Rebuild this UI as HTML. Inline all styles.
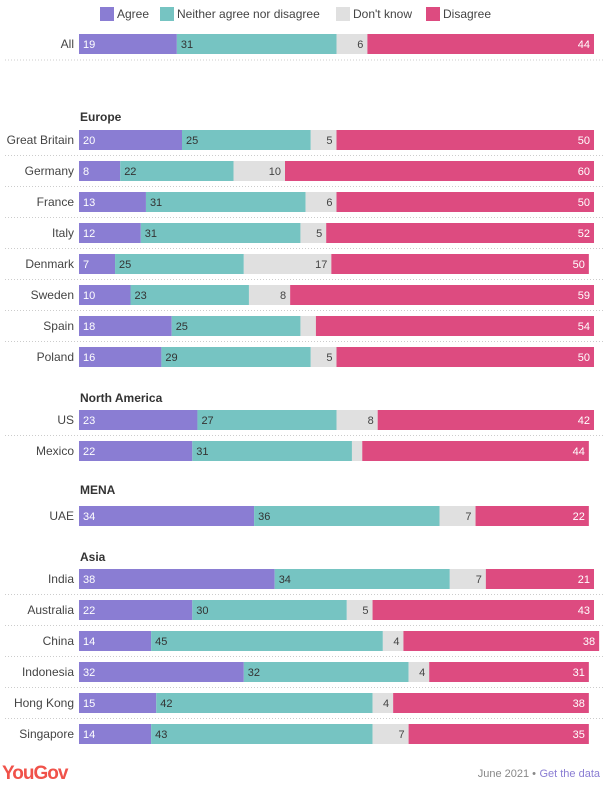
<!DOCTYPE html>
<html><head><meta charset="utf-8"><style>
body{margin:0;background:#fff;width:616px;height:796px;overflow:hidden;font-family:"Liberation Sans",sans-serif;}
svg text{font-family:"Liberation Sans",sans-serif;}
</style></head><body>
<svg id="chart" width="616" height="796" xmlns="http://www.w3.org/2000/svg">
<g font-size="12" fill="#444">
<rect x="100" y="7" width="14" height="14" fill="#8a7dd3"/>
<text x="117" y="18">Agree</text>
<rect x="160" y="7" width="14" height="14" fill="#76c4c2"/>
<text x="177" y="18">Neither agree nor disagree</text>
<rect x="336" y="7" width="14" height="14" fill="#e0e0e0"/>
<text x="353" y="18">Don't know</text>
<rect x="426" y="7" width="14" height="14" fill="#dd4b80"/>
<text x="443" y="18">Disagree</text>
</g>
<g id="bars"></g>
<text x="2" y="779" font-size="19" font-weight="bold" fill="#f0524a" letter-spacing="-1">YouGov</text>
<text x="536" y="777" font-size="11" fill="#888" text-anchor="end">June 2021 •</text>
<text x="600" y="777" font-size="11" fill="#8a7dd3" text-anchor="end">Get the data</text>
</svg>
<script>
const categories=["All","Great Britain","Germany","France","Italy","Denmark","Sweden","Spain","Poland","US","Mexico","UAE","India","Australia","China","Indonesia","Hong Kong","Singapore"];
const agree=[19,20,8,13,12,7,10,18,16,23,22,34,38,22,14,32,15,14];
const neither=[31,25,22,31,31,25,23,25,29,27,31,36,34,30,45,32,42,43];
const dontKnow=[6,5,10,6,5,17,8,3,5,8,2,7,7,5,4,4,4,7];
const disagree=[44,50,60,50,52,50,59,54,50,42,44,22,21,43,38,31,38,35];
const showValue=[[1,1,1,1],[1,1,1,1],[1,1,1,1],[1,1,1,1],[1,1,1,1],[1,1,1,1],[1,1,1,1],[1,1,0,1],[1,1,1,1],[1,1,1,1],[1,1,0,1],[1,1,1,1],[1,1,1,1],[1,1,1,1],[1,1,1,1],[1,1,1,1],[1,1,1,1],[1,1,1,1]];
const groups=[{name:"Europe",y:117},{name:"North America",y:398},{name:"MENA",y:490},{name:"Asia",y:557}];
const rowCenters=[44,140,171,202,233,264,295,326,357,420,451,516,579,610,641,672,703,734];
const x0=79, scale=5.15, bh=20;
const xs=v=>v*scale;
const colors=["#8a7dd3","#76c4c2","#e0e0e0","#dd4b80"];
const tcol=["#fff","#333","#444","#fff"];
const NS="http://www.w3.org/2000/svg";
const g=document.getElementById('bars');
function mk(t,a){const e=document.createElementNS(NS,t);for(const k in a)e.setAttribute(k,a[k]);g.appendChild(e);return e;}
groups.forEach(gr=>{const t=mk('text',{x:80,y:gr.y+4,'font-size':12,'font-weight':'bold',fill:'#333'});t.textContent=gr.name;

});
categories.forEach((c,i)=>{
 const cy=rowCenters[i], y=cy-bh/2;
 const lab=mk('text',{x:74,y:cy+4,'font-size':12,fill:'#444','text-anchor':'end'});lab.textContent=c;
 
 
 const vals=[agree[i],neither[i],dontKnow[i],disagree[i]];
 let x=x0;
 vals.forEach((v,k)=>{
  const w=xs(v);
  const r=mk('rect',{x:x,y:y,width:w,height:bh,fill:colors[k]});
  
  
  if(showValue[i][k]){
   const left=k<2;
   const t=mk('text',{x:left?x+4:x+w-4,y:cy+4,'font-size':11,fill:tcol[k],'text-anchor':left?'start':'end'});
   t.textContent=v;
   
   
  }
  x+=w;
 });
 const next=rowCenters[i+1];
 if(next!==undefined && next-cy<40 || i===0){
  const ly=i===0?60:cy+15.5;
  const l=mk('line',{x1:5,x2:605,y1:ly,y2:ly,stroke:'#ccc','stroke-dasharray':'1,2','stroke-width':1});
  
  
 }
});
</script>
</body></html>
